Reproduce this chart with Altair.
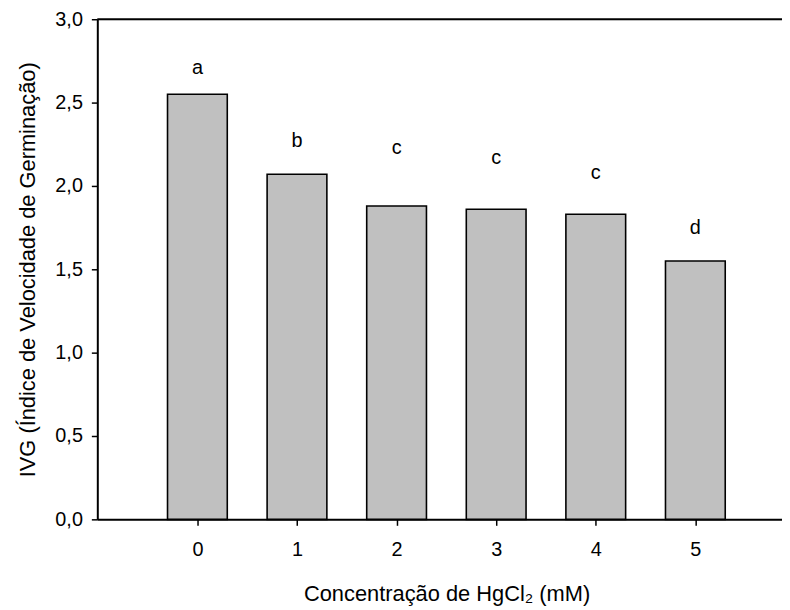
import altair as alt
import pandas as pd

conc = [0, 1, 2, 3, 4, 5]
ivg = [2.55, 2.07, 1.88, 1.86, 1.83, 1.55]
letters = ["a", "b", "c", "c", "c", "d"]
letter_y = [2.71, 2.27, 2.23, 2.17, 2.08, 1.75]

df = pd.DataFrame({"conc": conc, "ivg": ivg, "letter": letters, "ly": letter_y})

FONT = "Liberation Sans"
W, H = 690, 504
half = 0.3

xscale = alt.Scale(domain=[-1.005, 5.87], nice=False, zero=False)
yscale = alt.Scale(domain=[0, 3.0], nice=False)

base = alt.Chart(df)

bars = base.transform_calculate(
    x0="datum.conc - %f" % half, x1="datum.conc + %f" % half
).mark_rect(fill="#c0c0c0", stroke="black", strokeWidth=1.6).encode(
    x=alt.X("x0:Q", scale=xscale,
            axis=alt.Axis(values=conc, format="d", title="Concentração de HgCl₂ (mM)",
                          tickSize=6, tickWidth=1.5, domainWidth=2, domainColor="black",
                          tickColor="black", labelFont=FONT, labelFontSize=20,
                          labelColor="black", labelPadding=14, grid=False,
                          titleFont=FONT, titleFontSize=22, titleFontWeight="normal",
                          titleColor="black", titleX=352, titleY=75,
                          titleBaseline="middle", titleAlign="center")),
    x2="x1:Q",
    y=alt.Y("ivg:Q", scale=yscale,
            axis=alt.Axis(values=[0, 0.5, 1.0, 1.5, 2.0, 2.5, 3.0],
                          labelExpr="replace(format(datum.value, '.1f'), '.', ',')",
                          title="IVG (Índice de Velocidade de Germinação)",
                          tickSize=6, tickWidth=1.5, domainWidth=2, domainColor="black",
                          tickColor="black", labelFont=FONT, labelFontSize=20,
                          labelColor="black", labelPadding=9, grid=False,
                          titleFont=FONT, titleFontSize=22, titleFontWeight="normal",
                          titleColor="black", titleX=-70, titleY=H / 2,
                          titleAngle=-90, titleAlign="center",
                          titleBaseline="middle")),
    y2=alt.Y2(datum=0),
)

labels = base.mark_text(font=FONT, fontSize=20, color="black", baseline="middle").encode(
    x=alt.X("conc:Q", scale=xscale),
    y=alt.Y("ly:Q", scale=yscale),
    text="letter:N",
)

topline = alt.Chart(pd.DataFrame({"v": [3.0]})).mark_rule(color="black", strokeWidth=2).encode(
    y=alt.Y("v:Q", scale=yscale),
    x=alt.value(0),
    x2=alt.value(W),
)

chart = alt.layer(bars, labels, topline).properties(
    width=W, height=H,
    autosize=alt.AutoSizeParams(type="none"),
    padding={"left": 90, "top": 9, "right": 0, "bottom": 85},
).configure_view(stroke=None).configure(background="white")

chart.save("out.html", embed_options={"renderer": "svg", "actions": False})
